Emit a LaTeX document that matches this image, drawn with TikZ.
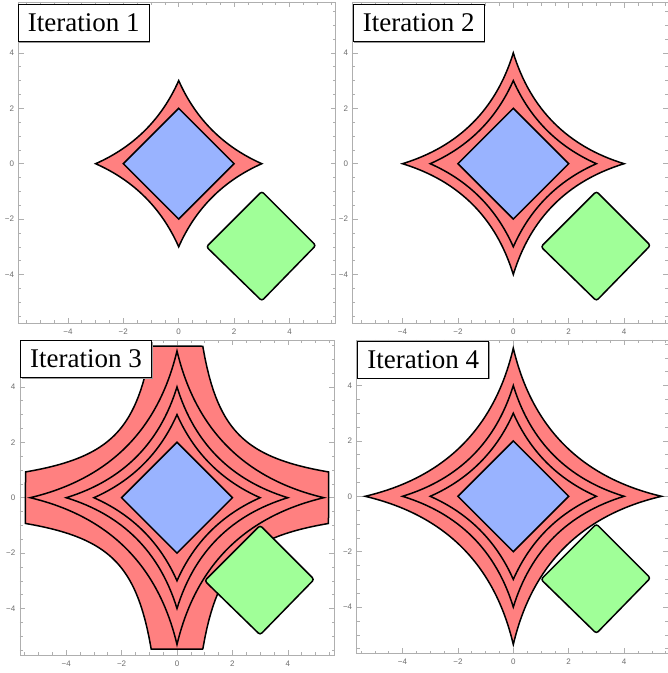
\documentclass[tikz,border=0pt]{standalone}
\usepackage{fontspec}
\setmainfont{Liberation Serif}
\newfontfamily\ticksfont{Liberation Sans}
\usepackage{xcolor}
\definecolor{cRed}{RGB}{255,128,128}
\definecolor{cBlue}{RGB}{153,179,255}
\definecolor{cGreen}{RGB}{160,255,152}
\definecolor{cFrame}{RGB}{175,175,175}
\definecolor{cTick}{RGB}{110,110,110}
\usetikzlibrary{calc,shadows}
\tikzset{
  region-red/.style={fill=cRed,draw=black,line width=1.5pt},
  region-blue/.style={fill=cBlue,draw=black,line width=1.5pt},
  region-green/.style={fill=cGreen,draw=black,line width=1.5pt,rounded corners=2.5pt},
  level-line/.style={draw=black,line width=1.5pt},
  plot-frame/.style={draw=cFrame,line width=0.6pt},
  tick-label/.style={font=\ticksfont\fontsize{8}{9}\selectfont,text=cTick,inner sep=0pt},
  iter-label/.style={draw=black,line width=1.1pt,fill=white,anchor=north west,
    font=\fontsize{27}{29}\selectfont,minimum width=131pt,minimum height=37pt,
    drop shadow={shadow xshift=1.2pt,shadow yshift=-1.2pt,fill=black!40,opacity=1}},
}
% star shaped level curve: tip radius, inner control point
\newcommand{\starcurve}[2]{(#1,0)
  .. controls ({(#1+2*#2)/3},{2*#2/3}) and ({2*#2/3},{(#1+2*#2)/3}) .. (0,#1)
  .. controls ({-2*#2/3},{(#1+2*#2)/3}) and ({-(#1+2*#2)/3},{2*#2/3}) .. (-#1,0)
  .. controls ({-(#1+2*#2)/3},{-2*#2/3}) and ({-2*#2/3},{-(#1+2*#2)/3}) .. (0,-#1)
  .. controls ({2*#2/3},{-(#1+2*#2)/3}) and ({(#1+2*#2)/3},{-2*#2/3}) .. cycle}
% frame with ticks: xmin, xmax, ymin, ymax, panel id
\newcommand{\panelframe}[5]{
  \draw[plot-frame] (#1,#3) rectangle (#2,#4);
  \foreach \v in {-5.5,-5,...,5.5}{
    \draw[plot-frame] (\v,#3) -- ++(0,0.1) (\v,#4) -- ++(0,-0.1)
      (#1,\v) -- ++(0.1,0) (#2,\v) -- ++(-0.1,0);
  }
  \foreach \v/\s in {-4/−4,-2/−2,0/0,2/2,4/4}{
    \draw[plot-frame] (\v,#3) -- ++(0,0.18) (\v,#4) -- ++(0,-0.18)
      (#1,\v) -- ++(0.18,0) (#2,\v) -- ++(-0.18,0);
    \node[tick-label,anchor=north] (#5x\v) at (\v,#3-0.2) {\s};
    \node[tick-label,anchor=east]  (#5y\v) at (#1-0.16,\v) {\s};
  }
}

\begin{document}
\begin{tikzpicture}[x=1pt,y=-1pt]
  \useasboundingbox (0,0) rectangle (668,673);
  \fill[white] (0,0) rectangle (668,673);

  % Iteration 1
  \begin{scope}[shift={(178.7,163.7)},x=27.7pt,y=27.7pt]
    \panelframe{-5.78}{5.67}{-5.76}{5.84}{a}
    \draw[region-red] \starcurve{3}{0.92};
    \draw[region-blue] (2,0) -- (0,2) -- (-2,0) -- (0,-2) -- cycle;
    \draw[region-green] (3,-1) -- (4.95,-2.95) -- (3,-4.95) -- (1,-3) -- cycle;
  \end{scope}
  \node[iter-label] (it1) at (17.7,4) {Iteration 1};

  % Iteration 2
  \begin{scope}[shift={(513.3,163.7)},x=27.7pt,y=27.7pt]
    \panelframe{-5.8}{5.58}{-5.76}{5.81}{b}
    \draw[region-red] \starcurve{4}{0.94};
    \draw[level-line] \starcurve{3}{0.92};
    \draw[region-blue] (2,0) -- (0,2) -- (-2,0) -- (0,-2) -- cycle;
    \draw[region-green] (3,-1) -- (4.95,-2.95) -- (3,-4.95) -- (1,-3) -- cycle;
  \end{scope}
  \node[iter-label] (it2) at (352.7,4) {Iteration 2};

  % Iteration 3
  \begin{scope}[shift={(177,497.7)},x=27.7pt,y=27.7pt]
    \panelframe{-5.67}{5.68}{-5.68}{5.69}{c}
    \draw[region-red] (5.47,0.93)
      -- plot[domain=5.47:0.93,samples=60,variable=\u] ({\u},{5.09/\u})
      -- (-0.93,5.47)
      -- plot[domain=0.93:5.47,samples=60,variable=\u] ({-\u},{5.09/\u})
      -- (-5.47,-0.93)
      -- plot[domain=5.47:0.93,samples=60,variable=\u] ({-\u},{-5.09/\u})
      -- (0.93,-5.47)
      -- plot[domain=0.93:5.47,samples=60,variable=\u] ({\u},{-5.09/\u})
      -- cycle;
    \draw[level-line] \starcurve{5.3}{1.02};
    \draw[level-line] \starcurve{4}{0.94};
    \draw[level-line] \starcurve{3}{0.92};
    \draw[region-blue] (2,0) -- (0,2) -- (-2,0) -- (0,-2) -- cycle;
    \draw[region-green] (3,-1) -- (4.95,-2.95) -- (3,-4.95) -- (1,-3) -- cycle;
  \end{scope}
  \node[iter-label] (it3) at (20,340) {Iteration 3};

  % Iteration 4
  \begin{scope}[shift={(513.3,496.3)},x=27.7pt,y=27.7pt]
    \panelframe{-5.65}{5.58}{-5.67}{5.65}{d}
    \draw[region-red] \starcurve{5.35}{1.02};
    \draw[level-line] \starcurve{4}{0.94};
    \draw[level-line] \starcurve{3}{0.92};
    \draw[region-blue] (2,0) -- (0,2) -- (-2,0) -- (0,-2) -- cycle;
    \draw[region-green] (3,-1) -- (4.95,-2.95) -- (3,-4.95) -- (1,-3) -- cycle;
  \end{scope}
  \node[iter-label] (it4) at (357.3,340.7) {Iteration 4};
\end{tikzpicture}
\end{document}
